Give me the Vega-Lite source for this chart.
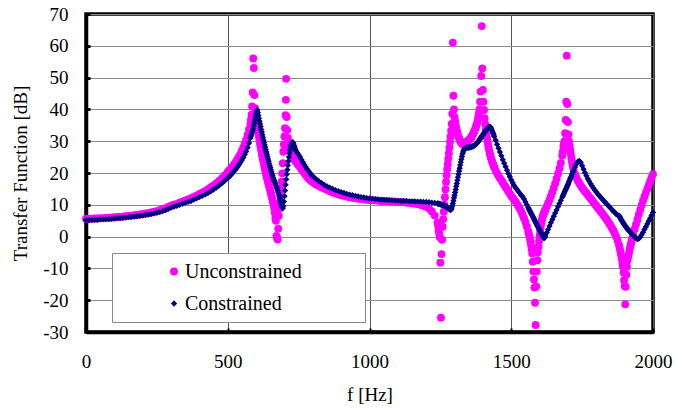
{
  "$schema": "https://vega.github.io/schema/vega-lite/v6.json",
  "width": 567,
  "height": 318,
  "autosize": {"type": "none"},
  "padding": {"left": 86, "top": 14, "right": 24, "bottom": 76},
  "background": "white",
  "datasets": {
    "tf": [
      {"f":0,"u":5.6,"c":5.2},{"f":10,"u":5.6,"c":5.2},{"f":20,"u":5.6,"c":5.2},{"f":30,"u":5.7,"c":5.3},{"f":40,"u":5.7,"c":5.3},
      {"f":50,"u":5.8,"c":5.4},{"f":60,"u":5.8,"c":5.4},{"f":70,"u":5.9,"c":5.5},{"f":80,"u":5.9,"c":5.5},{"f":90,"u":6.0,"c":5.6},
      {"f":100,"u":6.1,"c":5.7},{"f":110,"u":6.2,"c":5.8},{"f":120,"u":6.2,"c":5.8},{"f":130,"u":6.3,"c":5.9},{"f":140,"u":6.4,"c":6.0},
      {"f":150,"u":6.5,"c":6.1},{"f":160,"u":6.6,"c":6.2},{"f":170,"u":6.7,"c":6.3},{"f":180,"u":6.8,"c":6.4},{"f":190,"u":7.0,"c":6.5},
      {"f":200,"u":7.1,"c":6.6},{"f":210,"u":7.3,"c":6.8},{"f":220,"u":7.4,"c":6.9},{"f":230,"u":7.6,"c":7.1},{"f":240,"u":7.8,"c":7.3},
      {"f":250,"u":8.0,"c":7.5},{"f":260,"u":8.3,"c":7.7},{"f":270,"u":8.6,"c":8.0},{"f":280,"u":8.9,"c":8.3},{"f":290,"u":9.3,"c":8.7},
      {"f":300,"u":9.7,"c":9.1},{"f":310,"u":10.0,"c":9.4},{"f":320,"u":10.3,"c":9.7},{"f":330,"u":10.7,"c":10.0},{"f":340,"u":11.0,"c":10.3},
      {"f":350,"u":11.4,"c":10.6},{"f":360,"u":11.7,"c":10.9},{"f":370,"u":12.1,"c":11.2},{"f":380,"u":12.5,"c":11.6},{"f":390,"u":12.9,"c":12.0},
      {"f":400,"u":13.4,"c":12.4},{"f":410,"u":13.8,"c":12.8},{"f":420,"u":14.3,"c":13.2},{"f":430,"u":14.9,"c":13.7},{"f":440,"u":15.5,"c":14.2},
      {"f":450,"u":16.1,"c":14.8},{"f":460,"u":16.8,"c":15.4},{"f":470,"u":17.6,"c":16.1},{"f":480,"u":18.4,"c":16.8},{"f":490,"u":19.3,"c":17.6},
      {"f":500,"u":20.3,"c":18.4},{"f":505,"u":20.8,"c":18.8},{"f":510,"u":21.3,"c":19.3},{"f":515,"u":21.9,"c":19.8},{"f":520,"u":22.4,"c":20.3},
      {"f":525,"u":23.0,"c":20.8},{"f":530,"u":23.7,"c":21.4},{"f":535,"u":24.4,"c":22.0},{"f":540,"u":25.2,"c":22.7},{"f":545,"u":26.0,"c":23.4},
      {"f":550,"u":27.0,"c":24.1},{"f":555,"u":28.0,"c":24.9},{"f":560,"u":29.2,"c":25.8},{"f":565,"u":30.5,"c":26.8},{"f":570,"u":32.0,"c":28.0},
      {"f":575,"u":33.7,"c":29.4},
      {"f":580,"u":35.6,"c":31.0},{"f":582,"u":36.8,"c":31.6},{"f":584,"u":38.3,"c":32.2},{"f":586,"u":40.9,"c":32.8},{"f":588,"u":45.3,"c":33.4},
      {"f":590,"u":56.0,"c":34.0},{"f":592,"u":53.0,"c":34.9},{"f":594,"u":44.5,"c":35.8},{"f":596,"u":40.4,"c":36.7},{"f":598,"u":38.4,"c":37.6},
      {"f":600,"u":37.0,"c":38.4},{"f":602,"u":35.8,"c":39.2},{"f":604,"u":34.6,"c":39.8},{"f":606,"u":33.5,"c":39.0},{"f":608,"u":32.4,"c":38.1},
      {"f":610,"u":31.3,"c":37.2},{"f":612,"u":30.2,"c":36.3},{"f":614,"u":29.1,"c":35.4},{"f":616,"u":28.1,"c":34.6},{"f":618,"u":27.1,"c":33.7},
      {"f":620,"u":26.1,"c":32.9},{"f":622,"u":25.2,"c":32.0},{"f":624,"u":24.3,"c":31.2},{"f":626,"u":23.4,"c":30.4},{"f":628,"u":22.5,"c":29.6},
      {"f":630,"u":21.7,"c":28.8},{"f":632,"u":20.9,"c":28.1},{"f":634,"u":20.1,"c":27.3},{"f":636,"u":19.3,"c":26.6},{"f":638,"u":18.6,"c":25.9},
      {"f":640,"u":17.9,"c":25.1},{"f":642,"u":17.2,"c":24.4},{"f":644,"u":16.5,"c":23.7},{"f":646,"u":15.8,"c":23.0},{"f":648,"u":15.1,"c":22.3},
      {"f":650,"u":14.4,"c":21.7},{"f":652,"u":13.7,"c":21.0},{"f":654,"u":13.0,"c":20.4},{"f":656,"u":12.3,"c":19.8},{"f":658,"u":11.5,"c":19.2},
      {"f":660,"u":10.7,"c":18.6},{"f":662,"u":9.9,"c":18.1},{"f":664,"u":8.9,"c":17.6},{"f":666,"u":7.4,"c":17.1},{"f":668,"u":5.8,"c":16.6},
      {"f":670,"u":5.0,"c":16.1},{"f":672,"u":0.2,"c":15.6},{"f":674,"u":-0.3,"c":15.1},{"f":676,"u":-0.9,"c":14.5},{"f":678,"u":2.5,"c":13.9},
      {"f":680,"u":6.5,"c":13.3},{"f":682,"u":8.8,"c":12.6},{"f":684,"u":10.8,"c":11.9},{"f":686,"u":13.0,"c":11.2},{"f":688,"u":15.2,"c":10.5},
      {"f":690,"u":17.3,"c":9.8},{"f":692,"u":19.9,"c":9.2},{"f":694,"u":23.1,"c":8.9},{"f":696,"u":26.7,"c":9.6},{"f":698,"u":29.0,"c":11.0},
      {"f":700,"u":31.5,"c":12.7},{"f":702,"u":34.1,"c":14.5},{"f":704,"u":38.2,"c":16.3},{"f":705,"u":43.0},{"f":706,"u":49.6,"c":18.0},
      {"f":708,"u":37.6,"c":19.6},{"f":710,"u":33.5,"c":21.0},{"f":712,"u":31.0,"c":22.4},{"f":714,"u":29.6,"c":23.7},{"f":716,"u":28.8,"c":25.0},
      {"f":718,"u":28.1,"c":26.2},{"f":720,"u":27.5,"c":27.2},{"f":722,"u":26.9,"c":28.1},{"f":724,"u":26.4,"c":28.8},{"f":726,"u":25.9,"c":29.3},
      {"f":728,"u":25.5,"c":29.7},{"f":730,"u":25.1,"c":29.6},{"f":732,"u":24.8,"c":29.1},{"f":734,"u":24.5,"c":28.6},{"f":736,"u":24.2,"c":28.1},
      {"f":738,"u":23.9,"c":27.5},
      {"f":740,"u":23.6,"c":27.0},{"f":745,"u":22.9,"c":26.4},{"f":750,"u":22.4,"c":25.7},{"f":755,"u":21.9,"c":25.0},{"f":760,"u":21.2,"c":24.2},
      {"f":765,"u":20.6,"c":23.4},{"f":770,"u":20.0,"c":22.6},{"f":775,"u":19.4,"c":21.9},{"f":780,"u":18.8,"c":21.2},{"f":785,"u":18.3,"c":20.6},
      {"f":790,"u":17.9,"c":20.0},{"f":795,"u":17.5,"c":19.4},
      {"f":800,"u":17.1,"c":19.0},{"f":810,"u":16.5,"c":18.2},{"f":820,"u":16.0,"c":17.5},{"f":830,"u":15.5,"c":16.9},{"f":840,"u":15.1,"c":16.3},
      {"f":850,"u":14.7,"c":15.8},{"f":860,"u":14.3,"c":15.4},{"f":870,"u":13.9,"c":15.0},{"f":880,"u":13.6,"c":14.6},{"f":890,"u":13.3,"c":14.3},
      {"f":900,"u":13.0,"c":14.0},{"f":910,"u":12.8,"c":13.7},{"f":920,"u":12.6,"c":13.4},{"f":930,"u":12.4,"c":13.2},{"f":940,"u":12.2,"c":13.0},
      {"f":950,"u":12.1,"c":12.8},{"f":960,"u":11.9,"c":12.6},{"f":970,"u":11.8,"c":12.4},{"f":980,"u":11.7,"c":12.3},{"f":990,"u":11.6,"c":12.1},
      {"f":1000,"u":11.5,"c":12.0},{"f":1010,"u":11.4,"c":11.9},{"f":1020,"u":11.4,"c":11.8},{"f":1030,"u":11.3,"c":11.7},{"f":1040,"u":11.2,"c":11.6},
      {"f":1050,"u":11.2,"c":11.5},{"f":1060,"u":11.1,"c":11.5},{"f":1070,"u":11.1,"c":11.4},{"f":1080,"u":11.0,"c":11.4},{"f":1090,"u":11.0,"c":11.3},
      {"f":1100,"u":10.9,"c":11.3},{"f":1110,"u":10.9,"c":11.2},{"f":1120,"u":10.8,"c":11.2},{"f":1130,"u":10.7,"c":11.2},{"f":1140,"u":10.6,"c":11.1},
      {"f":1150,"u":10.5,"c":11.1},{"f":1160,"u":10.4,"c":11.1},{"f":1170,"u":10.2,"c":11.0},{"f":1180,"u":10.0,"c":11.0},{"f":1190,"u":9.7,"c":10.9},
      {"f":1200,"u":9.4,"c":10.9},{"f":1210,"u":8.8,"c":10.8},{"f":1220,"u":7.9,"c":10.7},{"f":1230,"u":6.6,"c":10.6},
      {"f":1240,"u":4.4,"c":10.4},{"f":1242,"u":3.4,"c":10.4},{"f":1244,"u":1.9,"c":10.3},{"f":1246,"u":0.8,"c":10.3},{"f":1248,"u":-0.2,"c":10.2},
      {"f":1250,"u":-8.2,"c":10.2},{"f":1252,"u":-25.5,"c":10.1},{"f":1254,"u":-5.5,"c":10.0},{"f":1256,"u":-1.0,"c":10.0},{"f":1258,"u":3.1,"c":9.9},
      {"f":1260,"u":5.5,"c":9.9},{"f":1262,"u":7.8,"c":9.8},{"f":1264,"u":10.0,"c":9.7},{"f":1266,"u":12.4,"c":9.6},{"f":1268,"u":14.8,"c":9.5},
      {"f":1270,"u":17.2,"c":9.4},{"f":1272,"u":19.3,"c":9.3},{"f":1274,"u":21.2,"c":9.2},{"f":1276,"u":22.8,"c":9.0},{"f":1278,"u":24.5,"c":8.9},
      {"f":1280,"u":26.2,"c":8.8},{"f":1282,"u":28.0,"c":8.7},{"f":1284,"u":29.8,"c":8.5},{"f":1286,"u":31.5,"c":8.4},{"f":1288,"u":33.3,"c":8.5},
      {"f":1290,"u":35.4,"c":9.0},{"f":1292,"u":38.6,"c":9.7},{"f":1294,"u":61.0,"c":10.4},{"f":1296,"u":44.3,"c":11.3},{"f":1298,"u":40.0,"c":12.2},
      {"f":1300,"u":37.6,"c":13.0},{"f":1302,"u":36.3,"c":13.9},{"f":1304,"u":35.2,"c":14.8},{"f":1306,"u":34.2,"c":15.8},{"f":1308,"u":33.4,"c":16.7},
      {"f":1310,"u":32.7,"c":17.7},{"f":1312,"u":32.0,"c":18.7},{"f":1314,"u":31.4,"c":19.6},{"f":1316,"u":30.9,"c":20.6},{"f":1318,"u":30.5,"c":21.5},
      {"f":1320,"u":30.1,"c":22.5},{"f":1322,"u":29.8,"c":23.4},{"f":1324,"u":29.5,"c":24.3},{"f":1326,"u":29.3,"c":25.2},{"f":1328,"u":29.1,"c":26.0},
      {"f":1330,"u":29.0,"c":26.6},{"f":1332,"u":29.0,"c":27.0},{"f":1334,"u":29.1,"c":27.4},{"f":1336,"u":29.2,"c":27.6},{"f":1338,"u":29.3,"c":27.8},
      {"f":1340,"u":29.5,"c":27.9},{"f":1342,"u":29.6,"c":28.0},{"f":1344,"u":29.8,"c":28.0},{"f":1346,"u":30.0,"c":28.0},{"f":1348,"u":30.1,"c":28.0},
      {"f":1350,"u":30.3,"c":28.0},{"f":1352,"u":30.5,"c":28.1},{"f":1354,"u":30.7,"c":28.1},{"f":1356,"u":30.9,"c":28.1},{"f":1358,"u":31.1,"c":28.2},
      {"f":1360,"u":31.4,"c":28.2},{"f":1362,"u":31.7,"c":28.3},{"f":1364,"u":32.0,"c":28.4},{"f":1366,"u":32.4,"c":28.5},{"f":1368,"u":32.8,"c":28.6},
      {"f":1370,"u":33.2,"c":28.6},{"f":1372,"u":33.6,"c":28.8},{"f":1374,"u":34.1,"c":28.9},{"f":1376,"u":34.7,"c":29.2},{"f":1378,"u":35.3,"c":29.3},
      {"f":1380,"u":36.0,"c":29.5},{"f":1382,"u":36.8,"c":29.7},{"f":1384,"u":37.7,"c":30.0},{"f":1386,"u":38.8,"c":30.2},{"f":1388,"u":40.0,"c":30.5},
      {"f":1390,"u":42.4,"c":30.7},{"f":1392,"u":45.6,"c":31.0},{"f":1394,"u":50.5,"c":31.3},{"f":1396,"u":66.2,"c":31.5},{"f":1398,"u":52.9,"c":31.8},
      {"f":1400,"u":46.1,"c":32.0},{"f":1402,"u":42.4,"c":32.3},{"f":1404,"u":39.8,"c":32.6},{"f":1406,"u":37.2,"c":32.8},{"f":1408,"u":35.4,"c":33.1},
      {"f":1410,"u":33.8,"c":33.3},{"f":1412,"u":32.4,"c":33.6},{"f":1414,"u":31.2,"c":33.8},{"f":1416,"u":30.1,"c":34.0},{"f":1418,"u":29.1,"c":34.2},
      {"f":1420,"u":28.1,"c":34.4},{"f":1422,"u":27.2,"c":34.5},{"f":1424,"u":26.4,"c":34.6},{"f":1426,"u":25.6,"c":34.5},{"f":1428,"u":24.9,"c":34.2},
      {"f":1430,"u":24.3,"c":33.8},{"f":1432,"u":23.7,"c":33.4},{"f":1434,"u":23.3,"c":32.9},{"f":1436,"u":22.8,"c":32.5},{"f":1438,"u":22.3,"c":32.0},
      {"f":1440,"u":21.8,"c":31.5},{"f":1445,"u":20.8,"c":30.3},{"f":1450,"u":19.9,"c":29.0},{"f":1455,"u":19.1,"c":27.8},{"f":1460,"u":18.4,"c":26.6},
      {"f":1465,"u":17.7,"c":25.4},{"f":1470,"u":17.0,"c":24.2},{"f":1475,"u":16.3,"c":23.1},{"f":1480,"u":15.6,"c":22.0},{"f":1485,"u":14.9,"c":20.9},
      {"f":1490,"u":14.2,"c":19.8},{"f":1495,"u":13.5,"c":18.8},{"f":1500,"u":12.8,"c":17.8},{"f":1505,"u":12.2,"c":16.9},{"f":1510,"u":11.6,"c":16.1},
      {"f":1515,"u":11.0,"c":15.4},{"f":1520,"u":10.3,"c":14.8},{"f":1525,"u":9.6,"c":14.2},{"f":1530,"u":8.8,"c":13.6},{"f":1535,"u":7.9,"c":13.0},
      {"f":1540,"u":6.9,"c":12.6},{"f":1545,"u":5.8,"c":11.8},{"f":1550,"u":4.6,"c":10.9},{"f":1555,"u":3.2,"c":10.0},
      {"f":1560,"u":1.6,"c":9.1},{"f":1562,"u":0.9,"c":8.7},{"f":1564,"u":0.1,"c":8.4},{"f":1566,"u":-0.7,"c":8.0},{"f":1568,"u":-1.6,"c":7.7},
      {"f":1570,"u":-2.7,"c":7.3},{"f":1572,"u":-4.0,"c":7.0},{"f":1574,"u":-5.3,"c":6.6},{"f":1576,"u":-7.9,"c":6.3},{"f":1578,"u":-11.0,"c":5.9},
      {"f":1580,"u":-13.5,"c":5.6},{"f":1582,"u":-16.0,"c":5.2},{"f":1584,"u":-20.8,"c":4.9},{"f":1586,"u":-27.8,"c":4.5},{"f":1588,"u":-15.7,"c":4.2},
      {"f":1590,"u":-11.0,"c":3.8},{"f":1592,"u":-7.4,"c":3.5},{"f":1594,"u":-5.0,"c":3.1},{"f":1596,"u":-3.2,"c":2.8},{"f":1598,"u":-1.4,"c":2.4},
      {"f":1600,"u":0.2,"c":2.1},{"f":1602,"u":1.6,"c":1.7},{"f":1604,"u":2.9,"c":1.4},{"f":1606,"u":4.1,"c":1.0},{"f":1608,"u":5.2,"c":0.7},
      {"f":1610,"u":6.0,"c":0.3},{"f":1612,"u":6.6,"c":0.0},{"f":1614,"u":7.1,"c":-0.3},{"f":1616,"u":7.6,"c":-0.5},{"f":1618,"u":8.0,"c":-0.3},
      {"f":1620,"u":8.4,"c":0.2},{"f":1625,"u":9.4,"c":1.2},{"f":1630,"u":10.5,"c":2.2},{"f":1635,"u":11.6,"c":3.3},{"f":1640,"u":12.8,"c":4.4},
      {"f":1645,"u":14.0,"c":5.4},{"f":1650,"u":15.3,"c":6.4},{"f":1655,"u":16.7,"c":7.4},{"f":1660,"u":18.2,"c":8.4},{"f":1665,"u":19.8,"c":9.4},
      {"f":1670,"u":21.4,"c":10.4},{"f":1675,"u":23.2,"c":11.4},
      {"f":1680,"u":25.5,"c":12.4},{"f":1682,"u":26.7,"c":12.8},{"f":1684,"u":28.3,"c":13.2},{"f":1686,"u":29.3,"c":13.6},{"f":1688,"u":30.0,"c":14.0},
      {"f":1690,"u":32.5,"c":14.4},{"f":1692,"u":36.7,"c":14.8},{"f":1694,"u":42.4,"c":15.2},{"f":1696,"u":56.9,"c":15.6},{"f":1698,"u":41.7,"c":16.0},
      {"f":1700,"u":36.0,"c":16.4},{"f":1702,"u":32.1,"c":16.8},{"f":1704,"u":29.9,"c":17.3},{"f":1706,"u":28.6,"c":17.7},{"f":1708,"u":27.3,"c":18.2},
      {"f":1710,"u":26.0,"c":18.6},{"f":1712,"u":24.8,"c":19.0},{"f":1714,"u":23.7,"c":19.5},{"f":1716,"u":22.7,"c":19.9},{"f":1718,"u":21.8,"c":20.4},
      {"f":1720,"u":21.0,"c":20.8},{"f":1725,"u":19.6,"c":21.9},{"f":1730,"u":18.5,"c":22.9},{"f":1735,"u":17.6,"c":23.6},{"f":1740,"u":16.8,"c":23.8},
      {"f":1745,"u":16.1,"c":23.3},{"f":1750,"u":15.4,"c":22.3},{"f":1755,"u":14.8,"c":21.2},{"f":1760,"u":14.2,"c":20.1},{"f":1765,"u":13.7,"c":19.1},
      {"f":1770,"u":13.1,"c":18.2},{"f":1775,"u":12.5,"c":17.4},{"f":1780,"u":12.0,"c":16.6},{"f":1785,"u":11.4,"c":15.9},{"f":1790,"u":10.8,"c":15.2},
      {"f":1795,"u":10.2,"c":14.6},{"f":1800,"u":9.7,"c":14.0},{"f":1805,"u":9.1,"c":13.4},{"f":1810,"u":8.6,"c":12.9},{"f":1815,"u":8.0,"c":12.4},
      {"f":1820,"u":7.4,"c":11.9},{"f":1825,"u":6.8,"c":11.4},{"f":1830,"u":6.2,"c":10.9},{"f":1835,"u":5.6,"c":10.4},{"f":1840,"u":4.9,"c":9.9},
      {"f":1845,"u":4.2,"c":9.5},{"f":1850,"u":3.5,"c":9.0},{"f":1855,"u":2.7,"c":8.5},{"f":1860,"u":1.9,"c":8.0},{"f":1865,"u":1.0,"c":7.6},
      {"f":1870,"u":0.0,"c":7.1},{"f":1875,"u":-1.2,"c":6.8},
      {"f":1880,"u":-2.6,"c":6.6},{"f":1882,"u":-3.3,"c":6.3},{"f":1884,"u":-4.2,"c":6.0},{"f":1886,"u":-5.1,"c":5.6},{"f":1888,"u":-6.0,"c":5.3},
      {"f":1890,"u":-7.0,"c":5.0},{"f":1892,"u":-8.3,"c":4.7},{"f":1894,"u":-9.5,"c":4.4},{"f":1896,"u":-11.3,"c":4.2},{"f":1898,"u":-13.7,"c":3.9},
      {"f":1900,"u":-15.5,"c":3.6},{"f":1902,"u":-21.3,"c":3.4},{"f":1904,"u":-15.8,"c":3.1},{"f":1906,"u":-12.0,"c":2.9},{"f":1908,"u":-9.5,"c":2.6},
      {"f":1910,"u":-7.5,"c":2.4},{"f":1912,"u":-6.5,"c":2.2},{"f":1914,"u":-5.8,"c":2.0},{"f":1916,"u":-4.8,"c":1.8},{"f":1918,"u":-3.8,"c":1.6},
      {"f":1920,"u":-3.0,"c":1.4},{"f":1922,"u":-2.3,"c":1.2},{"f":1924,"u":-1.6,"c":1.0},{"f":1926,"u":-0.9,"c":0.8},{"f":1928,"u":-0.2,"c":0.6},
      {"f":1930,"u":0.6,"c":0.4},{"f":1935,"u":2.3,"c":-0.1},{"f":1940,"u":3.8,"c":-0.5},{"f":1945,"u":5.4,"c":-0.8},{"f":1950,"u":7.0,"c":-0.6},
      {"f":1955,"u":8.5,"c":-0.1},{"f":1960,"u":9.9,"c":0.6},{"f":1965,"u":11.3,"c":1.4},{"f":1970,"u":12.6,"c":2.3},{"f":1975,"u":13.8,"c":3.1},
      {"f":1980,"u":15.0,"c":4.0},{"f":1985,"u":16.2,"c":4.9},{"f":1990,"u":17.4,"c":5.8},{"f":1995,"u":18.6,"c":6.7},{"f":2000,"u":19.6,"c":7.6}
    ]
  },
  "data": {"name": "tf"},
  "encoding": {
    "x": {
      "field": "f", "type": "quantitative",
      "scale": {"domain": [0, 2000], "nice": false},
      "axis": {
        "title": "f [Hz]", "values": [0, 500, 1000, 1500, 2000],
        "grid": true, "gridColor": "#555555", "gridWidth": 1, "gridOpacity": 1,
        "tickSize": -4, "tickWidth": 2, "tickColor": "#000000",
        "domainColor": "#000000", "domainWidth": 3.5,
        "labelPadding": 24, "titlePadding": 14, "labelFlush": false,
        "labelExpr": "toString(datum.value)"
      }
    },
    "y": {
      "field": "v", "type": "quantitative",
      "scale": {"domain": [-30, 70], "nice": false},
      "axis": {
        "title": "Transfer Function [dB]", "values": [-30, -20, -10, 0, 10, 20, 30, 40, 50, 60, 70],
        "grid": true, "gridColor": "#8c8c8c", "gridWidth": 1, "gridOpacity": 1,
        "tickSize": -4, "tickWidth": 3, "tickColor": "#000000",
        "domainColor": "#000000", "domainWidth": 3.5,
        "labelPadding": 22, "titlePadding": 12, "labelFlush": false,
        "labelExpr": "toString(datum.value)"
      }
    },
    "color": {
      "field": "s", "type": "nominal",
      "scale": {"domain": ["u", "c"], "range": ["#ff00ff", "#000080"]},
      "legend": {
        "title": ".", "titleOrient": "right", "titleColor": "#ffffff", "titlePadding": 52, "titleFontSize": 10,
        "orient": "none", "legendX": 26, "legendY": 239,
        "fillColor": "#ffffff", "strokeColor": "#888888",
        "padding": 8.5, "symbolOffset": 43.5, "labelOffset": 1, "rowPadding": 12,
        "labelFontSize": 20, "labelColor": "#000000", "labelLimit": 400,
        "labelExpr": "datum.label == 'u' ? 'Unconstrained' : 'Constrained'"
      }
    },
    "shape": {
      "field": "s", "type": "nominal",
      "scale": {"domain": ["u", "c"], "range": ["circle", "diamond"]}
    },
    "size": {
      "field": "s", "type": "nominal",
      "scale": {"domain": ["u", "c"], "range": [62, 40]}
    }
  },
  "layer": [
    {
      "transform": [{"fold": ["u"], "as": ["s", "v"]}, {"filter": "isValid(datum.v)"}],
      "mark": {"type": "point", "filled": true, "opacity": 1, "strokeWidth": 0}
    },
    {
      "transform": [{"fold": ["c"], "as": ["s", "v"]}, {"filter": "isValid(datum.v)"}],
      "mark": {"type": "point", "filled": true, "opacity": 1, "strokeWidth": 0}
    }
  ],
  "config": {
    "font": "Liberation Serif",
    "view": {"stroke": "#000000", "strokeWidth": 3.5},
    "axis": {
      "labelFont": "Liberation Serif", "titleFont": "Liberation Serif",
      "labelFontSize": 19, "titleFontSize": 19, "titleFontWeight": "normal",
      "labelColor": "#000000", "titleColor": "#000000"
    },
    "legend": {"labelFont": "Liberation Serif", "titleFont": "Liberation Serif", "symbolStrokeWidth": 0}
  }
}
